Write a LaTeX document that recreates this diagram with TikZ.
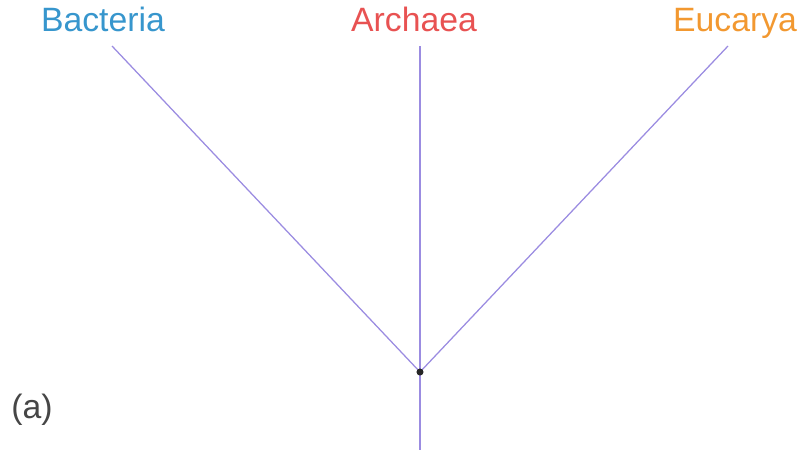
\documentclass[tikz,border=0pt]{standalone}
\usepackage{fontspec}
\setmainfont{Liberation Sans}
\usetikzlibrary{positioning, calc}
\definecolor{cBranch}{RGB}{155,140,225}
\definecolor{cBact}{RGB}{55,150,205}
\definecolor{cArch}{RGB}{232,82,82}
\definecolor{cEuca}{RGB}{242,152,48}
\definecolor{cPanel}{RGB}{70,70,70}
\tikzset{
	domainlbl/.style={font=\fontsize{24}{28}\selectfont, inner sep=0pt, anchor=base},
	branch/.style   ={draw=cBranch, line width=0.9pt},
	rootdot/.style  ={circle, fill=black!85, inner sep=0pt, minimum size=5pt},
	panel/.style    ={font=\fontsize{24}{28}\selectfont, text=cPanel, inner sep=0pt, anchor=base west},
}
\begin{document}
\begin{tikzpicture}[x=0.025cm, y=-0.025cm]
	\useasboundingbox (0,0) rectangle (803,450);
	\coordinate (root) at (420,372);
	\coordinate (bact) at (112,46);
	\coordinate (arch) at (420,46);
	\coordinate (euca) at (728,46);
	\coordinate (stem) at (420,450);
	\node[domainlbl, text=cBact] (lbact) at (103,31) {Bacteria};
	\node[domainlbl, text=cArch] (larch) at (414,31) {Archaea};
	\node[domainlbl, text=cEuca] (leuca) at (735,31) {Eucarya};
	\node[panel] (lpanel) at (11,418) {(a)};
	% branches
	\draw[branch] (root) -- (bact);
	\draw[branch] (root) -- (arch);
	\draw[branch] (root) -- (euca);
	\draw[branch] (root) -- (stem);
	\node[rootdot] (rdot) at (root) {};
\end{tikzpicture}
\end{document}
